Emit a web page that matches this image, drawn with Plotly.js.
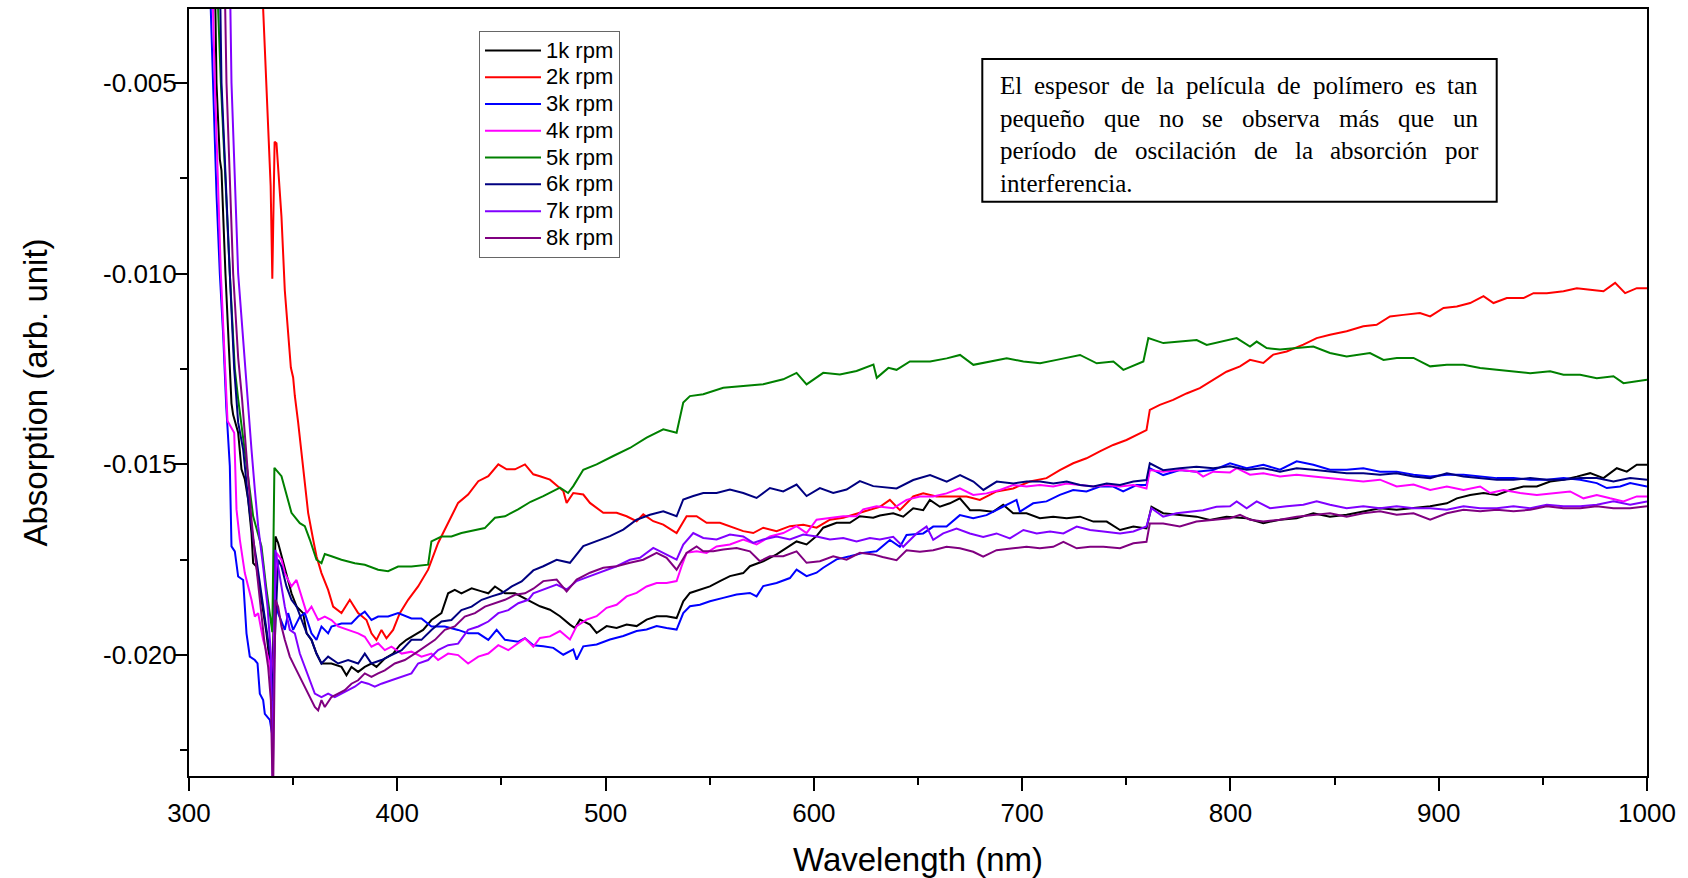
<!DOCTYPE html>
<html>
<head>
<meta charset="utf-8">
<script src="https://cdn.plot.ly/plotly-3.0.1.min.js"></script>
<style>html,body{margin:0;padding:0;background:#fff;}#chart{width:1688px;height:878px;}</style>
</head>
<body>
<div id="chart"></div>
<script>
// ---------------- data ----------------
const seriesNames = ["1k rpm","2k rpm","3k rpm","4k rpm","5k rpm","6k rpm","7k rpm","8k rpm"];
const seriesColors = ["#000000","#ff0000","#0000ff","#ff00ff","#008000","#000080","#8000ff","#800080"];

const wl1k = [312.6,313.2,314.8,315.6,317.5,320.4,321.2,323.6,325.2,326.8,328.4,330.0,330.8,332.4,334.8,337.2,340.0,341.5,342.8,344.4,346.0,347.6,349.2,351.7,353.2,354.8,356.5,358.8,361.2,363.6,368.4,373.2,375.6,378.0,381.2,384.4,387.6,390.0,394.0,398.0,401.2,404.4,408.4,412.4,416.4,421.2,424.4,427.6,430.8,435.7,440.5,443.7,446.9,451.7,456.5,461.3,465.3,468.5,473.3,478.1,482.9,485.3,487.7,492.5,495.7,500.5,505.3,510.1,514.9,519.7,524.5,529.3,534.1,537.3,540.5,545.3,550.1,554.9,559.7,566.1,569.3,575.7,582.1,586.9,591.7,596.5,601.3,604.5,610.9,617.3,622.1,628.5,631.7,638.1,642.9,647.7,652.5,655.7,660.5,665.3,670.1,675.0,679.7,686.1,690.9,695.7,702.1,708.5,714.9,721.4,727.8,734.2,740.6,747.0,753.4,759.7,762.1,767.7,775.7,783.7,790.1,798.1,807.8,815.8,823.8,831.8,839.8,847.8,855.8,863.8,871.8,879.8,887.9,895.9,903.9,908.7,915.1,921.5,927.9,934.3,940.7,947.1,953.5,959.9,966.3,972.7,979.1,985.5,990.3,995.1,1000];
const ab1k = [-0.0028,-0.005,-0.0070,-0.0073,-0.0100,-0.0134,-0.0137,-0.01417,-0.01513,-0.01539,-0.01592,-0.0168,-0.01759,-0.01768,-0.01855,-0.01943,-0.02083,-0.01689,-0.01706,-0.01741,-0.01768,-0.01803,-0.01838,-0.01873,-0.01882,-0.0189,-0.01943,-0.0196,-0.01996,-0.02022,-0.02022,-0.02031,-0.02053,-0.02031,-0.02044,-0.02031,-0.02022,-0.02031,-0.02009,-0.01996,-0.01974,-0.0196,-0.01947,-0.01934,-0.01908,-0.0189,-0.01838,-0.01829,-0.01838,-0.01825,-0.01833,-0.01838,-0.0182,-0.01838,-0.01838,-0.01851,-0.01864,-0.01872,-0.01881,-0.01898,-0.0192,-0.01929,-0.01907,-0.0192,-0.01942,-0.01924,-0.01929,-0.0192,-0.01924,-0.01907,-0.01898,-0.01898,-0.01903,-0.01859,-0.01837,-0.01828,-0.0182,-0.01806,-0.01793,-0.01785,-0.01767,-0.01754,-0.01736,-0.01719,-0.01702,-0.0171,-0.01688,-0.01666,-0.01653,-0.01653,-0.01636,-0.0164,-0.01634,-0.01628,-0.01637,-0.01615,-0.0162,-0.01593,-0.01611,-0.01602,-0.01589,-0.0162,-0.0162,-0.01624,-0.01606,-0.01628,-0.01628,-0.01641,-0.01637,-0.01641,-0.01637,-0.0165,-0.0165,-0.01672,-0.01663,-0.01668,-0.01611,-0.01628,-0.01633,-0.01637,-0.01646,-0.01637,-0.01641,-0.01654,-0.01645,-0.01641,-0.01628,-0.01637,-0.01632,-0.01623,-0.01615,-0.01619,-0.01615,-0.0161,-0.01602,-0.01589,-0.0158,-0.01575,-0.0158,-0.01567,-0.01558,-0.01558,-0.01545,-0.0154,-0.01532,-0.01523,-0.01536,-0.0151,-0.01519,-0.01501,-0.01501];

const wl2k = [335.4,339.2,340.0,341.1,342.0,343.6,344.4,346.0,347.6,348.9,350.0,350.8,352.4,354.0,355.2,357.2,359.6,361.2,363.6,366.8,369.2,373.2,377.2,381.2,385.2,387.6,390.0,392.4,394.8,398.0,401.2,405.2,410.0,414.8,419.6,424.4,429.2,434.0,438.9,443.7,448.5,452.5,456.5,461.3,465.3,468.5,473.3,479.7,481.3,484.5,489.3,492.5,498.9,505.3,510.1,514.9,518.1,522.9,527.7,534.1,538.9,543.7,548.5,554.9,561.3,566.1,570.9,575.7,582.1,588.5,594.9,601.3,607.7,614.1,622.1,631.7,636.5,641.3,647.7,652.5,658.9,666.9,673.3,679.7,687.7,695.7,703.7,711.7,718.1,724.5,730.9,737.3,743.7,750.1,756.5,759.7,761.3,766.1,772.5,778.9,785.3,791.7,798.1,804.6,809.4,815.8,820.6,827.0,835.0,841.4,847.8,855.8,863.8,870.2,876.6,883.0,891.0,895.9,902.3,908.7,915.1,921.5,926.3,932.7,940.7,945.5,951.9,959.9,966.3,972.7,979.1,984.7,989.5,995.1,1000];
const ab2k = [-0.0028,-0.0077,-0.01013,-0.00654,-0.00658,-0.00807,-0.00851,-0.01044,-0.01158,-0.01246,-0.01272,-0.0132,-0.0139,-0.0147,-0.0152,-0.01627,-0.01697,-0.01741,-0.01785,-0.01829,-0.01873,-0.0189,-0.01855,-0.0189,-0.01908,-0.01943,-0.0196,-0.01934,-0.01956,-0.01934,-0.0189,-0.01855,-0.0182,-0.01776,-0.01706,-0.01654,-0.01601,-0.01579,-0.01544,-0.01531,-0.015,-0.01513,-0.01513,-0.015,-0.01526,-0.01531,-0.0154,-0.0157,-0.01601,-0.01575,-0.01579,-0.01601,-0.01627,-0.01627,-0.01636,-0.01649,-0.01631,-0.01649,-0.01658,-0.0168,-0.01636,-0.01636,-0.01653,-0.01653,-0.01666,-0.01675,-0.0168,-0.01666,-0.01675,-0.01662,-0.01658,-0.01666,-0.01645,-0.0164,-0.01627,-0.01611,-0.01593,-0.0162,-0.01584,-0.01576,-0.01584,-0.01584,-0.01584,-0.01593,-0.01571,-0.01563,-0.01545,-0.01536,-0.01515,-0.01497,-0.01484,-0.01466,-0.01449,-0.01436,-0.01418,-0.0141,-0.01357,-0.01344,-0.01331,-0.01314,-0.013,-0.01279,-0.01257,-0.01243,-0.01226,-0.01234,-0.01212,-0.01204,-0.01186,-0.01169,-0.0116,-0.01151,-0.01138,-0.01134,-0.01112,-0.01108,-0.01103,-0.01112,-0.0109,-0.01086,-0.01077,-0.01059,-0.01077,-0.01064,-0.01064,-0.01051,-0.01051,-0.01046,-0.01038,-0.01042,-0.01046,-0.01024,-0.01051,-0.01038,-0.01038];

const wl3k = [310.3,311.6,313.2,314.8,316.4,317.9,319.6,320.4,322.0,323.6,326.0,327.6,329.2,331.6,332.9,334.0,335.6,336.4,338.8,340.0,341.2,342.8,346.0,347.6,350.0,353.2,355.6,358.8,361.2,363.6,366.8,368.4,373.2,378.0,381.2,384.4,387.6,390.8,395.6,400.4,406.8,411.6,416.4,422.8,429.2,434.0,438.9,443.7,447.7,451.7,458.1,461.3,465.3,470.1,474.9,479.7,484.5,486.1,489.3,495.7,502.1,508.5,514.9,519.7,524.5,529.3,534.1,537.3,540.5,545.3,550.1,556.5,562.9,569.3,572.5,575.7,582.1,588.5,591.7,596.5,601.3,604.5,610.9,617.3,623.7,630.1,636.5,641.3,644.5,652.5,657.3,663.7,670.1,676.5,682.9,689.3,697.3,698.9,705.3,711.7,718.1,724.5,730.9,737.3,743.7,748.5,754.9,759.7,761.3,767.7,775.7,783.7,791.7,799.8,807.8,815.8,823.8,831.8,839.8,847.8,855.8,863.8,871.8,879.8,887.9,895.9,903.9,911.9,919.9,927.9,935.9,943.9,951.9,959.9,967.9,975.9,980.7,987.1,991.9,1000];
const ab3k = [-0.0028,-0.005,-0.0079,-0.010,-0.0116,-0.0135,-0.01504,-0.01715,-0.01728,-0.01794,-0.01803,-0.01943,-0.02004,-0.02013,-0.02022,-0.02101,-0.02118,-0.02154,-0.0217,-0.0221,-0.01838,-0.0189,-0.01934,-0.0189,-0.01934,-0.01899,-0.0189,-0.01943,-0.0196,-0.01925,-0.01943,-0.01925,-0.01917,-0.01917,-0.01899,-0.01886,-0.01908,-0.01899,-0.01899,-0.0189,-0.01904,-0.01904,-0.01925,-0.01925,-0.01934,-0.01943,-0.01943,-0.0196,-0.01934,-0.0196,-0.01965,-0.01956,-0.01974,-0.01977,-0.01981,-0.01999,-0.01985,-0.02012,-0.01977,-0.01972,-0.01959,-0.0195,-0.01937,-0.01933,-0.01924,-0.01929,-0.01933,-0.0189,-0.01872,-0.01868,-0.01859,-0.0185,-0.01841,-0.01837,-0.01846,-0.01819,-0.01811,-0.01798,-0.01776,-0.01793,-0.01784,-0.01771,-0.01749,-0.01741,-0.01732,-0.01728,-0.01698,-0.01716,-0.01685,-0.01681,-0.01663,-0.01663,-0.01633,-0.01641,-0.01633,-0.01615,-0.01593,-0.01624,-0.01602,-0.01597,-0.0158,-0.01567,-0.01571,-0.01558,-0.01558,-0.01571,-0.01554,-0.01554,-0.0151,-0.01528,-0.01515,-0.01519,-0.01515,-0.01497,-0.0151,-0.01501,-0.01514,-0.01492,-0.01501,-0.01514,-0.01514,-0.0151,-0.01519,-0.01519,-0.01527,-0.01532,-0.01527,-0.01527,-0.01532,-0.01536,-0.01536,-0.0154,-0.0154,-0.01536,-0.0154,-0.01549,-0.01562,-0.01558,-0.01549,-0.01558];

const wl4k = [311.4,312.4,315.3,318.5,321.7,322.8,324.4,326.8,330.0,331.6,333.2,335.6,338.8,340.0,342.0,344.4,346.0,349.2,351.6,354.1,356.5,358.8,362.0,365.2,368.4,371.6,376.4,381.2,384.4,387.6,390.8,394.0,397.2,402.1,406.8,411.6,416.4,419.6,424.4,429.2,434.0,438.9,443.7,448.5,453.3,458.1,461.3,465.3,468.5,473.3,478.1,482.9,486.1,490.9,495.7,500.5,505.3,510.1,514.9,519.7,524.5,529.3,534.1,536.5,538.9,543.7,548.5,553.3,559.7,566.1,572.5,578.9,585.3,591.7,596.5,601.3,607.7,614.1,620.5,623.7,630.1,638.1,644.5,650.9,657.3,663.7,670.1,676.5,682.9,689.3,695.7,702.1,708.5,714.9,721.4,727.8,734.2,740.6,747.0,753.4,759.7,761.3,767.7,775.7,783.7,786.9,791.7,799.8,803.0,809.4,815.8,823.8,831.8,839.8,847.8,855.8,863.8,871.8,879.8,887.9,895.9,903.9,911.9,919.9,924.7,931.1,939.1,947.1,955.1,963.1,969.5,975.9,982.3,988.7,995.1,1000];
const ab4k = [-0.0028,-0.005,-0.010,-0.01386,-0.01417,-0.01618,-0.01697,-0.01785,-0.01855,-0.01899,-0.0189,-0.0196,-0.02022,-0.0212,-0.01732,-0.0175,-0.01785,-0.0182,-0.01803,-0.01847,-0.0189,-0.01873,-0.01908,-0.01899,-0.01908,-0.01925,-0.01934,-0.01943,-0.01952,-0.01978,-0.01969,-0.01987,-0.01978,-0.01996,-0.01991,-0.02004,-0.01996,-0.02013,-0.01996,-0.02,-0.02022,-0.02004,-0.01996,-0.01974,-0.01987,-0.01969,-0.01956,-0.01978,-0.01955,-0.01951,-0.01937,-0.01959,-0.01924,-0.01907,-0.01898,-0.01876,-0.01868,-0.01846,-0.01837,-0.0182,-0.01811,-0.01811,-0.01806,-0.01767,-0.01732,-0.01728,-0.01732,-0.01715,-0.0171,-0.01697,-0.0171,-0.01689,-0.0168,-0.01662,-0.0168,-0.01645,-0.0164,-0.01636,-0.01636,-0.01618,-0.0161,-0.01615,-0.01593,-0.01584,-0.01584,-0.01576,-0.01563,-0.0158,-0.01576,-0.01567,-0.01554,-0.01558,-0.01554,-0.01558,-0.0155,-0.01554,-0.01558,-0.01554,-0.01558,-0.01554,-0.01563,-0.01515,-0.01519,-0.01515,-0.01519,-0.01532,-0.01519,-0.01521,-0.0151,-0.01527,-0.01523,-0.01532,-0.01527,-0.01532,-0.01536,-0.0154,-0.01545,-0.0154,-0.01558,-0.01553,-0.01567,-0.01558,-0.01567,-0.01558,-0.01575,-0.01567,-0.01575,-0.0158,-0.01575,-0.01571,-0.01589,-0.0158,-0.01589,-0.01597,-0.01584,-0.01584];

const wl5k = [313.8,315.3,319.6,322.0,323.6,327.6,330.8,334.8,337.0,340.0,341.0,344.4,346.8,349.2,353.2,355.6,358.0,361.2,363.6,365.2,368.4,373.2,379.6,384.4,390.8,395.6,400.4,406.8,414.8,416.4,421.2,426.0,430.8,435.7,442.0,446.9,451.7,458.0,464.0,470.1,478.1,482.0,484.5,489.3,495.7,503.7,511.7,519.7,527.7,534.1,537.3,540.5,546.9,556.5,566.1,575.7,585.3,591.7,596.5,604.5,612.5,620.5,628.6,630.2,635.8,639.7,646.1,655.8,663.8,670.2,676.6,684.6,692.6,700.6,708.6,716.6,727.8,735.8,743.8,748.6,758.2,760.6,767.8,775.8,783.8,788.6,796.6,803.0,809.4,812.6,817.4,823.8,831.8,839.8,847.8,855.8,867.0,873.5,879.9,887.9,895.9,903.9,911.9,919.9,927.9,935.9,943.9,953.5,959.9,967.9,975.9,983.9,988.7,995.1,1000];
const ab5k = [-0.0028,-0.005,-0.010,-0.0125,-0.01329,-0.015,-0.01636,-0.01715,-0.0182,-0.0194,-0.01509,-0.01531,-0.01583,-0.01627,-0.01654,-0.01662,-0.01697,-0.0175,-0.01759,-0.01735,-0.01741,-0.0175,-0.01759,-0.01763,-0.01776,-0.0178,-0.01768,-0.01768,-0.01763,-0.01702,-0.01689,-0.01689,-0.0168,-0.01675,-0.01667,-0.0164,-0.01636,-0.01618,-0.01598,-0.01583,-0.01561,-0.01575,-0.01557,-0.01514,-0.015,-0.01478,-0.01457,-0.0143,-0.01408,-0.01417,-0.01338,-0.01321,-0.01316,-0.01299,-0.01295,-0.0129,-0.01277,-0.0126,-0.0129,-0.0126,-0.01264,-0.01255,-0.01238,-0.01273,-0.01247,-0.01252,-0.0123,-0.0123,-0.01222,-0.01213,-0.01239,-0.0123,-0.01222,-0.0123,-0.01235,-0.01226,-0.01213,-0.01235,-0.0123,-0.01252,-0.0123,-0.01169,-0.01182,-0.01178,-0.01174,-0.01187,-0.01178,-0.01169,-0.01191,-0.01178,-0.01195,-0.01199,-0.01195,-0.01191,-0.01208,-0.01217,-0.01208,-0.01226,-0.01221,-0.01221,-0.01243,-0.01239,-0.01239,-0.01247,-0.01252,-0.01256,-0.01261,-0.01256,-0.01265,-0.01265,-0.01274,-0.01269,-0.01287,-0.01282,-0.01278];

const wl6k = [315.0,315.6,319.6,321.7,323.6,326.0,328.4,330.8,332.4,334.8,337.2,339.3,340.0,342.8,344.4,346.8,349.2,351.7,354.1,356.5,358.8,361.2,363.6,366.8,371.6,376.4,381.2,384.4,387.6,392.4,397.2,402.1,406.8,411.6,416.4,421.2,426.0,430.8,435.7,440.5,445.3,450.1,455.0,459.7,465.3,470.1,476.5,482.9,489.3,495.7,502.1,508.5,514.9,521.3,527.7,534.1,537.3,542.1,546.9,553.3,559.7,566.1,572.5,578.9,585.3,591.7,596.5,602.9,609.3,615.7,622.1,628.5,633.0,639.7,647.7,655.8,663.8,670.2,676.6,681.4,687.8,695.8,702.2,708.6,715.0,721.4,727.8,734.2,740.6,747.0,753.4,759.7,761.3,767.7,775.7,783.7,791.7,799.8,807.8,815.8,823.8,831.8,839.8,847.8,855.8,863.8,871.8,879.8,887.9,895.9,903.9,911.9,919.9,927.9,935.9,943.9,951.9,959.9,967.9,975.9,983.9,991.9,1000];
const ab6k = [-0.0028,-0.005,-0.010,-0.0125,-0.0139,-0.01461,-0.01592,-0.01697,-0.0175,-0.01838,-0.01925,-0.02013,-0.0212,-0.0175,-0.01768,-0.0182,-0.01855,-0.01873,-0.01908,-0.01943,-0.0196,-0.01996,-0.02022,-0.02004,-0.02022,-0.02013,-0.02022,-0.01996,-0.02022,-0.02013,-0.02,-0.01987,-0.0196,-0.0196,-0.01934,-0.01912,-0.01908,-0.01882,-0.01873,-0.01855,-0.01846,-0.01838,-0.0182,-0.01807,-0.01778,-0.01767,-0.0175,-0.01758,-0.01714,-0.01701,-0.01688,-0.01671,-0.01645,-0.01632,-0.01623,-0.01636,-0.01592,-0.01583,-0.01575,-0.01575,-0.01566,-0.01575,-0.01588,-0.01562,-0.01571,-0.01553,-0.01583,-0.01562,-0.01575,-0.01566,-0.01544,-0.01557,-0.0156,-0.01563,-0.01541,-0.01528,-0.01545,-0.01528,-0.01545,-0.01567,-0.01545,-0.0155,-0.01545,-0.01545,-0.0155,-0.01545,-0.01554,-0.01558,-0.0155,-0.01554,-0.01545,-0.01541,-0.01497,-0.01515,-0.0151,-0.01506,-0.0151,-0.01505,-0.01514,-0.0151,-0.01519,-0.0151,-0.01514,-0.01519,-0.01523,-0.01523,-0.01527,-0.01523,-0.01532,-0.01536,-0.01523,-0.01532,-0.01536,-0.0154,-0.0154,-0.01536,-0.0154,-0.0154,-0.01536,-0.01536,-0.01545,-0.01536,-0.0154];

const wl7k = [319.8,320.4,323.6,326.5,328.4,330.0,331.6,333.2,335.6,337.7,339.3,340.2,341.5,342.8,344.4,346.0,348.4,350.8,353.2,355.6,358.0,360.4,363.6,366.8,370.0,373.2,376.4,379.6,382.8,386.0,389.2,392.4,397.2,402.1,406.8,410.0,414.8,419.6,424.4,429.2,434.0,438.9,443.7,448.5,453.3,458.1,462.9,465.3,470.1,476.5,481.3,486.1,492.5,498.9,505.3,511.7,516.5,522.9,527.7,534.1,537.3,542.1,546.9,553.3,559.7,566.1,570.9,575.7,582.1,588.5,594.9,601.3,607.7,614.1,620.5,626.9,631.7,638.1,642.9,649.3,654.1,657.3,662.1,668.5,674.9,681.3,687.7,694.1,700.6,707.0,713.4,719.8,726.2,732.6,739.0,747.0,753.4,759.7,762.1,767.7,774.1,780.5,786.9,793.3,799.8,803.0,807.8,812.6,819.0,827.0,835.0,841.4,847.8,855.8,863.8,871.8,879.8,887.9,895.9,903.9,911.9,919.9,927.9,935.9,943.9,951.9,959.9,967.9,975.9,983.9,991.9,1000];
const ab7k = [-0.0028,-0.005,-0.010,-0.0122,-0.01347,-0.01461,-0.01566,-0.01662,-0.01768,-0.01873,-0.01996,-0.0235,-0.01724,-0.01768,-0.0182,-0.01873,-0.01934,-0.01943,-0.01996,-0.02031,-0.02066,-0.02101,-0.0211,-0.02101,-0.0211,-0.02101,-0.02092,-0.02083,-0.0207,-0.02075,-0.02083,-0.02075,-0.02066,-0.02057,-0.02048,-0.02022,-0.02013,-0.01987,-0.01974,-0.0197,-0.01934,-0.01925,-0.01912,-0.0189,-0.01882,-0.01864,-0.01855,-0.01838,-0.01828,-0.01815,-0.01828,-0.01806,-0.01793,-0.0178,-0.01767,-0.0175,-0.01745,-0.01719,-0.01732,-0.0175,-0.0171,-0.0168,-0.01693,-0.01697,-0.01684,-0.01689,-0.01706,-0.01697,-0.01689,-0.01697,-0.01684,-0.01689,-0.01697,-0.01693,-0.01702,-0.01693,-0.01697,-0.0169,-0.01716,-0.01681,-0.01663,-0.01698,-0.01681,-0.01668,-0.01681,-0.0169,-0.01681,-0.01694,-0.01672,-0.01681,-0.01676,-0.01681,-0.01663,-0.01672,-0.01676,-0.01681,-0.01676,-0.01663,-0.01615,-0.01637,-0.01628,-0.01624,-0.0162,-0.01611,-0.0161,-0.01597,-0.01615,-0.01597,-0.01615,-0.0161,-0.01606,-0.01597,-0.01606,-0.01615,-0.0161,-0.01615,-0.0161,-0.01615,-0.01615,-0.01619,-0.0161,-0.01615,-0.01615,-0.0161,-0.01615,-0.01606,-0.0161,-0.0161,-0.01606,-0.01597,-0.01606,-0.01597];

const wl8k = [317.3,318.0,321.2,323.6,325.5,326.8,328.4,330.0,331.6,333.2,334.5,336.1,338.0,339.3,340.3,341.5,342.8,344.4,346.0,348.4,350.8,353.2,355.6,358.0,360.4,362.0,363.6,365.2,368.4,371.6,374.8,378.0,381.2,384.4,387.6,390.8,394.0,398.8,403.6,408.4,413.2,418.1,422.8,427.6,432.4,437.3,442.1,446.9,451.7,456.5,461.3,465.3,470.1,476.5,481.3,486.1,492.5,498.9,505.3,511.7,518.1,524.5,529.3,534.1,538.9,543.7,546.9,551.7,556.5,562.9,569.3,574.1,578.9,585.3,591.7,596.5,602.9,609.3,615.7,622.1,628.5,633.0,639.7,644.5,650.9,657.3,663.7,670.1,676.5,681.3,687.7,695.7,702.1,708.5,714.9,719.8,726.2,732.6,739.0,747.0,753.4,759.7,761.3,767.7,775.7,783.7,791.7,799.8,804.6,809.4,815.8,823.8,831.8,839.8,847.8,855.8,863.8,871.8,879.8,887.9,895.9,903.9,911.9,919.9,927.9,935.9,943.9,951.9,959.9,967.9,975.9,983.9,991.9,1000];
const ab8k = [-0.0028,-0.005,-0.010,-0.0122,-0.0133,-0.01417,-0.01548,-0.01645,-0.01732,-0.0182,-0.0189,-0.0196,-0.02031,-0.02118,-0.0240,-0.01855,-0.01873,-0.01925,-0.0196,-0.02004,-0.02031,-0.02057,-0.02083,-0.0211,-0.02136,-0.02145,-0.02118,-0.02136,-0.0211,-0.02101,-0.02092,-0.02075,-0.02066,-0.02048,-0.02057,-0.02048,-0.0204,-0.02022,-0.02013,-0.01996,-0.01978,-0.0196,-0.01934,-0.01925,-0.01899,-0.0189,-0.01873,-0.01864,-0.01855,-0.01842,-0.01838,-0.01826,-0.01806,-0.01802,-0.01833,-0.01802,-0.01784,-0.01771,-0.01767,-0.01758,-0.0175,-0.01732,-0.01745,-0.01776,-0.01732,-0.01715,-0.01728,-0.01728,-0.01723,-0.01719,-0.01728,-0.01754,-0.01741,-0.01741,-0.01728,-0.01758,-0.01754,-0.01741,-0.0175,-0.01732,-0.01736,-0.01743,-0.01751,-0.01725,-0.01729,-0.01725,-0.01716,-0.0172,-0.01729,-0.01742,-0.01725,-0.0172,-0.01716,-0.0172,-0.01716,-0.01703,-0.0172,-0.01716,-0.01716,-0.0172,-0.01707,-0.01703,-0.01655,-0.01655,-0.01663,-0.0165,-0.01646,-0.01641,-0.01632,-0.01645,-0.0165,-0.01645,-0.01637,-0.01632,-0.01628,-0.01637,-0.01628,-0.01623,-0.01632,-0.01628,-0.01645,-0.01628,-0.01619,-0.01623,-0.01619,-0.01623,-0.01619,-0.0161,-0.01615,-0.01615,-0.0161,-0.01615,-0.01615,-0.0161];

const xTickVals = [300,400,500,600,700,800,900,1000];
const xTickText = ["300","400","500","600","700","800","900","1000"];
const yTickVals = [-0.020,-0.015,-0.010,-0.005];
const yTickText = ["-0.020","-0.015","-0.010","-0.005"];
const yMinorVals = [-0.0225,-0.0175,-0.0125,-0.0075];
const xMinorVals = [350,450,550,650,750,850,950];

const boxLines = [
  "El espesor de la película de polímero es tan",
  "pequeño que no se observa más que un",
  "período de oscilación de la absorción por",
  "interferencia."
];

// ---------------- chart ----------------
const allX = [wl1k,wl2k,wl3k,wl4k,wl5k,wl6k,wl7k,wl8k];
const allY = [ab1k,ab2k,ab3k,ab4k,ab5k,ab6k,ab7k,ab8k];
const legendTextSize = 22;
const traces = allX.map((xs,i)=>({
  type:'scatter', mode:'lines', x:xs, y:allY[i],
  name:'<span style="font-size:'+legendTextSize+'px">'+seriesNames[i]+'</span>',
  line:{color:seriesColors[i], width:2}, cliponaxis:true
}));

const W=1688, H=878, mL=189, mR=41, mT=9, mB=102;
const pw=W-mL-mR, ph=H-mT-mB;
const px = x => (x-mL)/pw;
const py = y => 1-(y-mT)/ph;

const sans = 'Arial, "Liberation Sans", sans-serif';
const serif = '"Liberation Serif", "Times New Roman", serif';
const boxFont = 25;

const annotations = [];
const ctx = document.createElement('canvas').getContext('2d');
ctx.font = boxFont+'px "Liberation Serif"';
const textLeft=1000, textRight=1478, firstBase=94.3, lineGap=32.4;
boxLines.forEach((line,i)=>{
  const words=line.split(' ');
  const last = i===boxLines.length-1;
  const widths=words.map(w=>ctx.measureText(w).width);
  const total=widths.reduce((a,b)=>a+b,0);
  const gap = (last||words.length<2) ? ctx.measureText(' ').width : (textRight-textLeft-total)/(words.length-1);
  let x=textLeft;
  words.forEach((w,j)=>{
    annotations.push({xref:'paper',yref:'paper',x:px(x),y:py(firstBase+i*lineGap-0.34*boxFont),
      xanchor:'left',yanchor:'middle',text:w,showarrow:false,borderpad:0,borderwidth:0,
      font:{family:serif,size:boxFont,color:'#000'}});
    x+=widths[j]+gap;
  });
});

const layout = {
  width:W, height:H,
  margin:{l:mL,r:mR,t:mT,b:mB,pad:0},
  paper_bgcolor:'#fff', plot_bgcolor:'#fff',
  font:{family:sans, color:'#000'},
  showlegend:true,
  legend:{x:px(479), y:py(31), xanchor:'left', yanchor:'top',
    bgcolor:'#fff', bordercolor:'#666', borderwidth:1,
    font:{family:sans,size:18.3,color:'#000'}, itemwidth:56, tracegroupgap:0},
  xaxis:{range:[300,1000], tickmode:'array', tickvals:xTickVals, ticktext:xTickText,
    ticks:'outside', ticklen:13, tickwidth:2, tickcolor:'#000',
    minor:{tickmode:'array', tickvals:xMinorVals, ticks:'outside', ticklen:7, tickwidth:2, tickcolor:'#000', showgrid:false},
    showline:true, linewidth:2, linecolor:'#000', mirror:true,
    showgrid:false, zeroline:false,
    tickfont:{family:sans,size:26,color:'#000'},
    title:{text:'Wavelength (nm)', font:{family:sans,size:33,color:'#000'}, standoff:22}},
  yaxis:{range:[-0.02317,-0.00306], tickmode:'array', tickvals:yTickVals, ticktext:yTickText,
    ticks:'outside', ticklen:13, tickwidth:2, tickcolor:'#000', ticklabelstandoff:-8,
    minor:{tickmode:'array', tickvals:yMinorVals, ticks:'outside', ticklen:7, tickwidth:2, tickcolor:'#000', showgrid:false},
    showline:true, linewidth:2, linecolor:'#000', mirror:true,
    showgrid:false, zeroline:false,
    tickfont:{family:sans,size:26,color:'#000'},
    title:{text:'Absorption (arb. unit)', font:{family:sans,size:33,color:'#000'}, standoff:46}},
  shapes:[{type:'rect', xref:'paper', yref:'paper', x0:px(982.3), x1:px(1496.7), y0:py(201.7), y1:py(59),
    line:{color:'#000', width:2}, fillcolor:'#fff', layer:'above'}],
  annotations:annotations
};

Plotly.newPlot('chart', traces, layout, {displayModeBar:false, staticPlot:true});
</script>
</body>
</html>
